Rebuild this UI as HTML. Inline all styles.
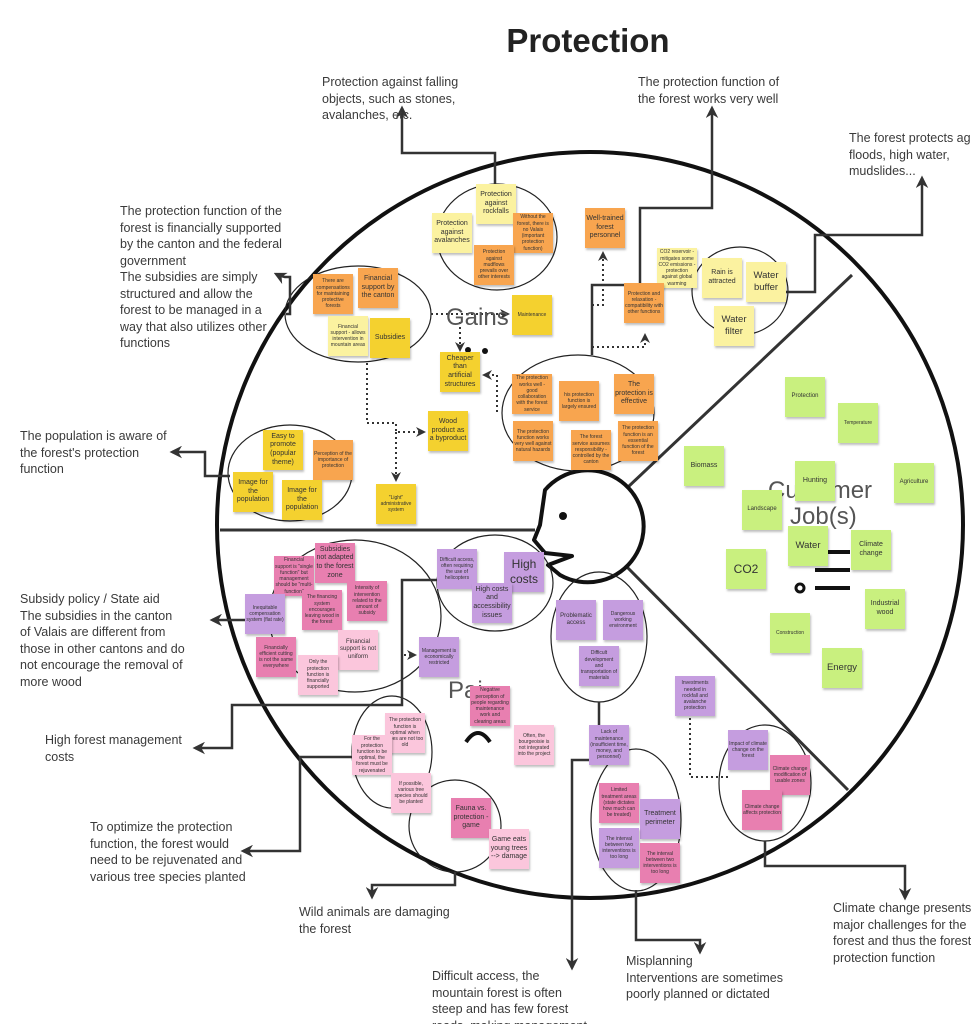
<!DOCTYPE html>
<html><head><meta charset="utf-8"><style>
body{margin:0;background:#fff;}
#c{position:relative;width:971px;height:1024px;overflow:hidden;background:#fff;font-family:"Liberation Sans",sans-serif;}
.t{position:absolute;color:#3a3a3a;font-size:12.5px;line-height:16.5px;}
.s{position:absolute;width:40px;height:40px;display:flex;align-items:center;justify-content:center;text-align:center;font-size:5px;line-height:1.25;color:#333;box-shadow:1px 2px 2px rgba(0,0,0,.25);overflow:hidden;padding:1px;box-sizing:border-box;}
.o{background:#f8a54f}.y{background:#f4d12f}.ly{background:#fbf2a0}.g{background:#c9f07f}.p{background:#e87fb0}.lp{background:#fbc6dc}.u{background:#c59ddf}
.m{font-size:7px}.b{font-size:9.5px}.xb{font-size:12px}
</style></head><body><div id="c">
<svg width="971" height="1024" style="position:absolute;left:0;top:0" fill="none">
<defs><marker id="a" viewBox="0 0 10 10" refX="8" refY="5" markerWidth="5" markerHeight="5" orient="auto"><path d="M0,0 L10,5 L0,10 L3,5 Z" fill="#333"/></marker></defs>
<circle cx="590" cy="525" r="373" stroke="#111" stroke-width="4"/>
<line x1="220" y1="530" x2="535" y2="530" stroke="#333" stroke-width="3"/>
<line x1="627" y1="488" x2="852" y2="275" stroke="#333" stroke-width="3"/>
<line x1="625" y1="565" x2="848" y2="790" stroke="#333" stroke-width="3"/>
<path d="M545,490 A56,56 0 1 1 560,575 L548,565 L572,556 L545,553 L534,540 L540,525 Z" fill="#fff" stroke="#111" stroke-width="4" stroke-linejoin="round"/>
<circle cx="563" cy="516" r="4" fill="#111"/>
<g stroke="#222" stroke-width="1.2">
<ellipse cx="497" cy="237" rx="60" ry="53"/>
<ellipse cx="358" cy="314" rx="73" ry="48"/>
<ellipse cx="290" cy="473" rx="62" ry="48"/>
<ellipse cx="578" cy="413" rx="76" ry="58"/>
<ellipse cx="740" cy="291" rx="48" ry="44"/>
<ellipse cx="355" cy="616" rx="86" ry="76"/>
<ellipse cx="495" cy="583" rx="58" ry="48"/>
<ellipse cx="599" cy="637" rx="48" ry="65"/>
<ellipse cx="392" cy="752" rx="40" ry="56"/>
<ellipse cx="455" cy="826" rx="46" ry="46"/>
<ellipse cx="636" cy="820" rx="45" ry="71"/>
<ellipse cx="765" cy="783" rx="46" ry="58"/>
</g>
<g stroke="#333" stroke-width="2.5" marker-end="url(#a)">
<path d="M495,185 V153 H402 V108"/>
<path d="M592,355 V285 H640 V208 H712 V108"/>
<path d="M785,292 H815 V235 H922 V178"/>
<path d="M286,314 H290 V277 H285 Q280,276 276,274"/>
<path d="M230,476 H205 V452 H172"/>
<path d="M270,620 H212"/>
<path d="M437,580 H402 V705 H232 V748 H195"/>
<path d="M352,757 H300 V851 H243"/>
<path d="M455,872 V885 H372 V897"/>
<path d="M599,702 V760 H572 V968"/>
<path d="M636,890 V940 H700 V952"/>
<path d="M765,841 V866 H905 V898"/>
</g>
<g stroke="#333" stroke-width="2" stroke-dasharray="2,3" marker-end="url(#a)">
<path d="M431,314 H508"/>
<path d="M460,322 V350"/>
<path d="M367,363 V423 H396 V432 H424"/>
<path d="M396,432 V480"/>
<path d="M497,412 V375 H484"/>
<path d="M592,347 H645 V335"/>
<path d="M592,305 H603 V253"/>
<path d="M402,612 V655 H415"/>
<path d="M728,777 H690 V698"/>
</g>
<text x="446" y="325" font-family="Liberation Sans" font-size="24" fill="#555">Gains</text>
<circle cx="468" cy="350" r="3" fill="#111"/><circle cx="485" cy="351" r="3" fill="#111"/>
<text x="768" y="498" font-family="Liberation Sans" font-size="24" fill="#555">Customer</text>
<text x="790" y="524" font-family="Liberation Sans" font-size="24" fill="#555">Job(s)</text>
<g stroke="#111" stroke-width="4"><line x1="828" y1="552" x2="850" y2="552"/><line x1="815" y1="570" x2="850" y2="570"/><line x1="815" y1="588" x2="850" y2="588"/></g>
<circle cx="800" cy="588" r="4" stroke="#111" stroke-width="3"/>
<text x="448" y="698" font-family="Liberation Sans" font-size="24" fill="#555">Pai</text>
<path d="M466,742 Q478,724 490,742" stroke="#111" stroke-width="4"/>
</svg>
<div style="position:absolute;left:0;width:971px;top:22px;text-align:center;padding-left:205px;box-sizing:border-box;font-size:33px;font-weight:bold;color:#222;">Protection</div>
<div class="t" style="left:322px;top:74px;width:150px">Protection against falling objects, such as stones, avalanches, etc.</div>
<div class="t" style="left:638px;top:74px;width:160px">The protection function of the forest works very well</div>
<div class="t" style="left:849px;top:130px;width:140px;white-space:nowrap">The forest protects against<br>floods, high water,<br>mudslides...</div>
<div class="t" style="left:120px;top:203px;width:165px">The protection function of the forest is financially supported by the canton and the federal government<br>The subsidies are simply structured and allow the forest to be managed in a way that also utilizes other functions</div>
<div class="t" style="left:20px;top:428px;width:150px">The population is aware of the forest's protection function</div>
<div class="t" style="left:20px;top:591px;width:165px">Subsidy policy / State aid<br>The subsidies in the canton of Valais are different from those in other cantons and do not encourage the removal of more wood</div>
<div class="t" style="left:45px;top:732px;width:150px">High forest management costs</div>
<div class="t" style="left:90px;top:819px;width:165px">To optimize the protection function, the forest would need to be rejuvenated and various tree species planted</div>
<div class="t" style="left:299px;top:904px;width:160px">Wild animals are damaging the forest</div>
<div class="t" style="left:432px;top:968px;width:160px">Difficult access, the mountain forest is often steep and has few forest roads, making management difficult and</div>
<div class="t" style="left:626px;top:953px;width:175px">Misplanning<br>Interventions are sometimes poorly planned or dictated</div>
<div class="t" style="left:833px;top:900px;width:150px">Climate change presents major challenges for the forest and thus the forest's protection function</div>

<div class="s ly m" style="left:476px;top:184px">Protection against rockfalls</div>
<div class="s ly m" style="left:432px;top:213px">Protection against avalanches</div>
<div class="s o" style="left:513px;top:213px">Without the forest, there is no Valais (important protection function)</div>
<div class="s o" style="left:474px;top:245px">Protection against mudflows prevails over other interests</div>
<div class="s o m" style="left:585px;top:208px">Well-trained forest personnel</div>
<div class="s o" style="left:313px;top:274px">There are compensations for maintaining protective forests</div>
<div class="s o m" style="left:358px;top:268px">Financial support by the canton</div>
<div class="s ly" style="left:328px;top:316px">Financial support - allows intervention in mountain areas</div>
<div class="s y m" style="left:370px;top:318px">Subsidies</div>
<div class="s y" style="left:512px;top:295px">Maintenance</div>
<div class="s y m" style="left:440px;top:352px">Cheaper than artificial structures</div>
<div class="s y m" style="left:428px;top:411px">Wood product as a byproduct</div>
<div class="s y" style="left:376px;top:484px">"Light" administrative system</div>
<div class="s y m" style="left:263px;top:430px">Easy to promote (popular theme)</div>
<div class="s o" style="left:313px;top:440px">Perception of the importance of protection</div>
<div class="s y m" style="left:233px;top:472px">Image for the population</div>
<div class="s y m" style="left:282px;top:480px">Image for the population</div>
<div class="s o" style="left:512px;top:374px">The protection works well - good collaboration with the forest service</div>
<div class="s o" style="left:559px;top:381px">his protection function is largely ensured</div>
<div class="s o m" style="left:614px;top:374px">The protection is effective</div>
<div class="s o" style="left:513px;top:421px">The protection function works very well against natural hazards</div>
<div class="s o" style="left:571px;top:430px">The forest service assumes responsibility - controlled by the canton</div>
<div class="s o" style="left:618px;top:421px">The protection function is an essential function of the forest</div>
<div class="s ly" style="left:657px;top:248px">CO2 reservoir - mitigates some CO2 emissions - protection against global warming</div>
<div class="s o" style="left:624px;top:283px">Protection and relaxation - compatibility with other functions</div>
<div class="s ly m" style="left:702px;top:258px">Rain is attracted</div>
<div class="s ly b" style="left:746px;top:262px">Water buffer</div>
<div class="s ly b" style="left:714px;top:306px">Water filter</div>
<div class="s g" style="left:785px;top:377px;font-size:6px">Protection</div>
<div class="s g" style="left:838px;top:403px">Temperature</div>
<div class="s g m" style="left:684px;top:446px">Biomass</div>
<div class="s g m" style="left:795px;top:461px">Hunting</div>
<div class="s g" style="left:894px;top:463px;font-size:6px">Agriculture</div>
<div class="s g" style="left:742px;top:490px;font-size:6px">Landscape</div>
<div class="s g b" style="left:788px;top:526px">Water</div>
<div class="s g m" style="left:851px;top:530px">Climate change</div>
<div class="s g xb" style="left:726px;top:549px">CO2</div>
<div class="s g m" style="left:865px;top:589px">Industrial wood</div>
<div class="s g" style="left:770px;top:613px">Construction</div>
<div class="s g b" style="left:822px;top:648px">Energy</div>

<div class="s p" style="left:274px;top:556px">Financial support is "single function" but management should be "multi-function"</div>
<div class="s p m" style="left:315px;top:543px">Subsidies not adapted to the forest zone</div>
<div class="s p" style="left:347px;top:581px">Intensity of intervention related to the amount of subsidy</div>
<div class="s u" style="left:245px;top:594px">Inequitable compensation system (flat rate)</div>
<div class="s p" style="left:302px;top:590px">The financing system encourages leaving wood in the forest</div>
<div class="s p" style="left:256px;top:637px">Financially efficient cutting is not the same everywhere</div>
<div class="s lp" style="left:338px;top:630px;font-size:6px">Financial support is not uniform</div>
<div class="s lp" style="left:298px;top:655px">Only the protection function is financially supported</div>
<div class="s u" style="left:437px;top:549px">Difficult access, often requiring the use of helicopters</div>
<div class="s u xb" style="left:504px;top:552px">High costs</div>
<div class="s u m" style="left:472px;top:583px">High costs and accessibility issues</div>
<div class="s u" style="left:419px;top:637px">Management is economically restricted</div>
<div class="s u" style="left:556px;top:600px;font-size:6px">Problematic access</div>
<div class="s u" style="left:603px;top:600px">Dangerous working environment</div>
<div class="s u" style="left:579px;top:646px">Difficult development and transportation of materials</div>
<div class="s p" style="left:470px;top:686px">Negative perception of people regarding maintenance work and clearing areas</div>
<div class="s lp" style="left:514px;top:725px">Often, the bourgeoisie is not integrated into the project</div>
<div class="s u" style="left:589px;top:725px">Lack of maintenance (insufficient time, money, and personnel)</div>
<div class="s u" style="left:675px;top:676px">Investments needed in rockfall and avalanche protection</div>
<div class="s lp" style="left:385px;top:713px">The protection function is optimal when trees are not too old</div>
<div class="s lp" style="left:352px;top:735px">For the protection function to be optimal, the forest must be rejuvenated</div>
<div class="s lp" style="left:391px;top:773px">If possible, various tree species should be planted</div>
<div class="s p m" style="left:451px;top:798px">Fauna vs. protection - game</div>
<div class="s lp m" style="left:489px;top:829px">Game eats young trees --&gt; damage</div>
<div class="s p" style="left:599px;top:783px">Limited treatment areas (state dictates how much can be treated)</div>
<div class="s u m" style="left:640px;top:799px">Treatment perimeter</div>
<div class="s u" style="left:599px;top:828px">The interval between two interventions is too long</div>
<div class="s p" style="left:640px;top:843px">The interval between two interventions is too long</div>
<div class="s u" style="left:728px;top:730px">Impact of climate change on the forest</div>
<div class="s p" style="left:770px;top:755px">Climate change modification of usable zones</div>
<div class="s p" style="left:742px;top:790px">Climate change affects protection</div>
</div></body></html>
